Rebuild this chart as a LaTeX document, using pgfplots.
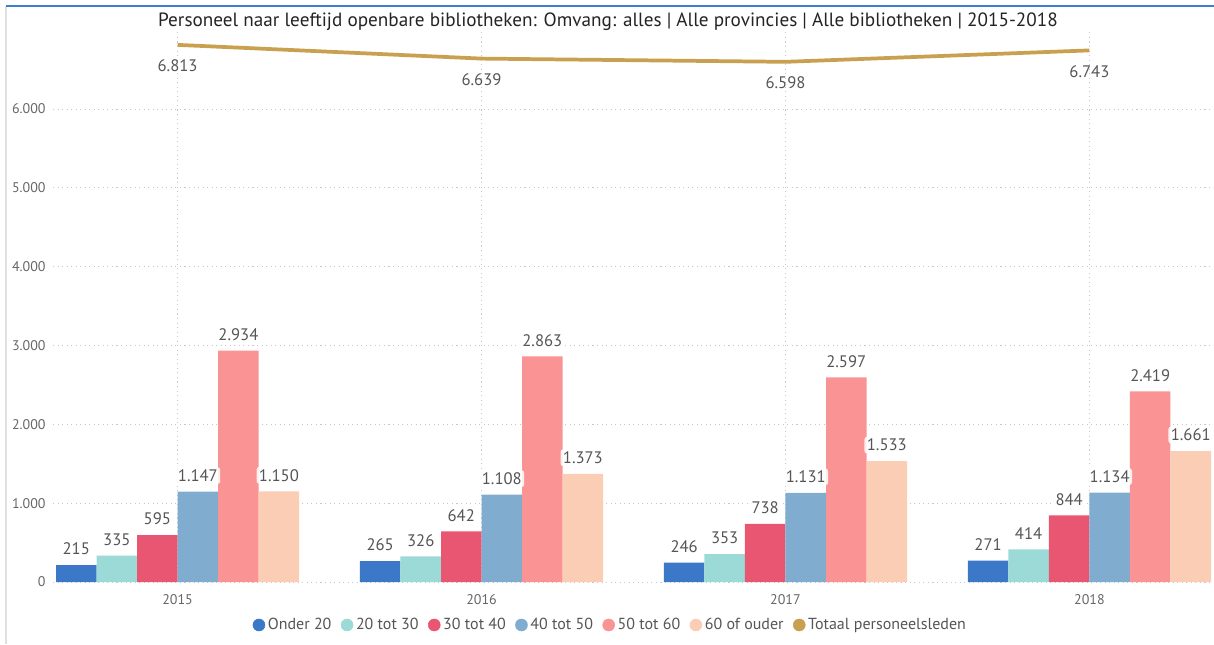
\documentclass[border=0pt]{standalone}
\usepackage{fontspec}
\setmainfont{PT Sans}
\usepackage{pgfplots}
\usepackage{pgfplotstable}
\pgfplotsset{compat=1.18}
\definecolor{c1}{HTML}{3C78C8}
\definecolor{c2}{HTML}{9CDAD7}
\definecolor{c3}{HTML}{E85672}
\definecolor{c4}{HTML}{80ACD0}
\definecolor{c5}{HTML}{FA9393}
\definecolor{c6}{HTML}{FCCDB5}
\definecolor{c7}{HTML}{C8A050}
\definecolor{topblue}{HTML}{3C7FD0}
\definecolor{labgray}{HTML}{555555}
\definecolor{tickgray}{HTML}{666666}
\definecolor{titlecol}{HTML}{252423}

\pgfplotstableread{
x year o20 t30 t40 t50 t60 o60 tot
0 2015 215 335 595 1147 2934 1150 6813
1 2016 265 326 642 1108 2863 1373 6639
2 2017 246 353 738 1131 2597 1533 6598
3 2018 271 414 844 1134 2419 1661 6743
}\datatable

\pgfkeys{/pgf/number format/.cd, fixed, precision=0, 1000 sep={.}, assume math mode=true}

\pgfplotsset{
  barlab/.style={draw=none, mark=none, nodes near coords,
    every node near coord/.append style={anchor=center, yshift=12pt, xshift=#1,
      font=\fontsize{12.5}{14}\selectfont, text=labgray, fill=white, fill opacity=0.85,
      text opacity=1, rounded corners=2pt, inner sep=1.8pt}},
  dotleg/.style={legend image code/.code={\fill[#1] (0pt,0pt) circle (4.5pt);}},
}

\begin{document}
\begin{tikzpicture}
\path[use as bounding box] (0,0) rectangle (910.5pt,483pt);
\draw[line width=0.8pt, color=black!12] (4.5pt,0) -- (4.5pt,478.5pt);
\draw[line width=1.5pt, color=topblue] (4.5pt,478.5pt) -- (910.5pt,478.5pt);
\node[anchor=center, font=\fontsize{14.4}{16}\selectfont, text=titlecol] at (456pt,467pt)
  {Personeel naar leeftijd openbare bibliotheken: Omvang: alles | Alle provincies | Alle bibliotheken | 2015-2018};
\begin{axis}[
  at={(39.75pt,46.5pt)}, anchor=south west,
  scale only axis, width=870.75pt, height=413.9pt,
  xmin=-0.41, xmax=3.41, ymin=0, ymax=7000,
  axis line style={draw=none},
  major tick length=0pt,
  xtick={0,1,2,3}, xticklabels={2015,2016,2017,2018},
  ytick={0,1000,2000,3000,4000,5000,6000},
  grid=major,
  major grid style={draw=black!22, line width=0.6pt, dash pattern=on 0.8pt off 2.6pt},
  tick label style={font=\fontsize{10.5}{12}\selectfont, text=tickgray},
  yticklabel style={xshift=-2pt},
  xticklabel style={yshift=-6pt},
  bar width=30.4pt,
  legend style={at={(0.4803,-0.0779)}, anchor=center, draw=none, fill=none,
    font=\fontsize{12}{14}\selectfont, text=labgray,
    /tikz/every even column/.append style={column sep=5pt},
    /tikz/every odd column/.append style={column sep=0pt}},
  legend columns=-1,
  clip=false,
]
% bars
\addplot[forget plot, ybar, bar shift=-76pt, fill=c1, draw=none] table[x=x,y=o20] {\datatable};
\addplot[forget plot, ybar, bar shift=-45.6pt, fill=c2, draw=none] table[x=x,y=t30] {\datatable};
\addplot[forget plot, ybar, bar shift=-15.2pt, fill=c3, draw=none] table[x=x,y=t40] {\datatable};
\addplot[forget plot, ybar, bar shift=15.2pt, fill=c4, draw=none] table[x=x,y=t50] {\datatable};
\addplot[forget plot, ybar, bar shift=45.6pt, fill=c5, draw=none] table[x=x,y=t60] {\datatable};
\addplot[forget plot, ybar, bar shift=76pt, fill=c6, draw=none] table[x=x,y=o60] {\datatable};
% line
\addplot[forget plot, c7, line width=2.8pt, mark=none,
  nodes near coords, every node near coord/.append style={anchor=center, yshift=-15.75pt,
  font=\fontsize{12.5}{14}\selectfont, text=labgray}] table[x=x,y=tot] {\datatable};
% labels on top
\addplot[forget plot, barlab=-76pt] table[x=x,y=o20] {\datatable};
\addplot[forget plot, barlab=-45.6pt] table[x=x,y=t30] {\datatable};
\addplot[forget plot, barlab=-15.2pt] table[x=x,y=t40] {\datatable};
\addplot[forget plot, barlab=15.2pt] table[x=x,y=t50] {\datatable};
\addplot[forget plot, barlab=45.6pt] table[x=x,y=t60] {\datatable};
\addplot[forget plot, barlab=76pt] table[x=x,y=o60] {\datatable};
% legend
\addlegendimage{dotleg=c1}
\addlegendentry{Onder 20}
\addlegendimage{dotleg=c2}
\addlegendentry{20 tot 30}
\addlegendimage{dotleg=c3}
\addlegendentry{30 tot 40}
\addlegendimage{dotleg=c4}
\addlegendentry{40 tot 50}
\addlegendimage{dotleg=c5}
\addlegendentry{50 tot 60}
\addlegendimage{dotleg=c6}
\addlegendentry{60 of ouder}
\addlegendimage{dotleg=c7}
\addlegendentry{Totaal personeelsleden}
\end{axis}
\end{tikzpicture}
\end{document}
